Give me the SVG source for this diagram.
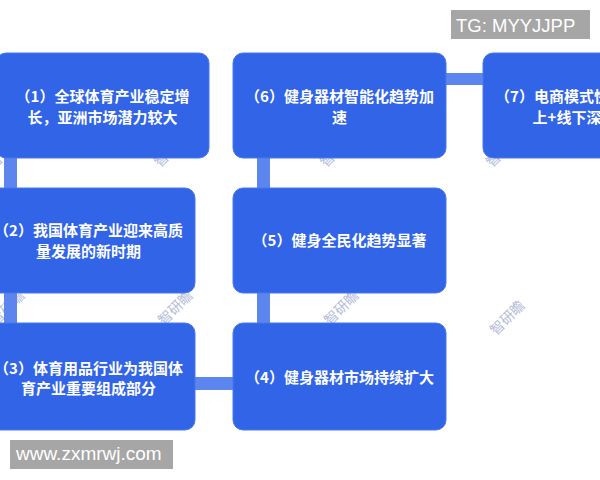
<svg xmlns="http://www.w3.org/2000/svg" width="600" height="480" viewBox="0 0 600 480">
<style>
.box{fill:#3164e6;stroke:#4a78ec;stroke-width:1}
.con{fill:#5c86ee}
.t{font-family:"Noto Sans CJK SC","Noto Sans",sans-serif;font-size:15px;font-weight:bold;fill:#ffffff;text-anchor:middle}
.wm{font-family:"Noto Sans CJK SC",sans-serif;font-size:14px;fill:#b4bcd8}
.tag{fill:#a6a6a6}
.tagt{font-family:"Liberation Sans",Arial,sans-serif;fill:#ffffff}
</style>
<rect width="600" height="480" fill="#ffffff"/>
<g id="watermarks">
<text class="wm" transform="translate(-6,170) rotate(-45)">智研瞻</text>
<text class="wm" transform="translate(160,168) rotate(-45)">智研瞻</text>
<text class="wm" transform="translate(326,168) rotate(-45)">智研瞻</text>
<text class="wm" transform="translate(492,168) rotate(-45)">智研瞻</text>
<text class="wm" transform="translate(-4,326) rotate(-45)">智研瞻</text>
<text class="wm" transform="translate(164,326) rotate(-45)">智研瞻</text>
<text class="wm" transform="translate(330,326) rotate(-45)">智研瞻</text>
<text class="wm" transform="translate(496,336) rotate(-45)">智研瞻</text>
</g>
<g id="connectors">
<rect class="con" x="4" y="158" width="13" height="31"/>
<rect class="con" x="4" y="293" width="13" height="31"/>
<rect class="con" x="194" y="377" width="40" height="13"/>
<rect class="con" x="257" y="293" width="13" height="31"/>
<rect class="con" x="257" y="158" width="13" height="31"/>
<rect class="con" x="445" y="73" width="39" height="12"/>
</g>
<g id="node1">
<rect class="box" x="-4" y="53" width="213" height="105" rx="10"/>
<text class="t" x="102.5" y="101.5">（1）全球体育产业稳定增</text>
<text class="t" x="102.5" y="122.5">长，亚洲市场潜力较大</text>
</g>
<g id="node2">
<rect class="box" x="-18" y="188" width="213" height="105" rx="10"/>
<text class="t" x="88.5" y="235.5">（2）我国体育产业迎来高质</text>
<text class="t" x="88.5" y="256.5">量发展的新时期</text>
</g>
<g id="node3">
<rect class="box" x="-18" y="323" width="213" height="107" rx="10"/>
<text class="t" x="88.5" y="374">（3）体育用品行业为我国体</text>
<text class="t" x="88.5" y="394">育产业重要组成部分</text>
</g>
<g id="node4">
<rect class="box" x="233" y="323" width="213" height="107" rx="10"/>
<text class="t" x="339.5" y="383">（4）健身器材市场持续扩大</text>
</g>
<g id="node5">
<rect class="box" x="233" y="188" width="213" height="105" rx="10"/>
<text class="t" x="339.5" y="246">（5）健身全民化趋势显著</text>
</g>
<g id="node6">
<rect class="box" x="233" y="53" width="213" height="105" rx="10"/>
<text class="t" x="339.5" y="101.5">（6）健身器材智能化趋势加</text>
<text class="t" x="339.5" y="122.5">速</text>
</g>
<g id="node7">
<rect class="box" x="483" y="53" width="213" height="105" rx="10"/>
<text class="t" x="589.5" y="101.5">（7）电商模式快速发展，线</text>
<text class="t" x="589.5" y="122.5">上+线下深度融合</text>
</g>
<g id="tag-tg">
<rect class="tag" x="451" y="10" width="139" height="29"/>
<text class="tagt" x="456" y="32" font-size="18.5">TG: MYYJJPP</text>
</g>
<g id="tag-url">
<rect class="tag" x="10" y="440" width="163" height="29"/>
<text class="tagt" x="16" y="460" font-size="19">www.zxmrwj.com</text>
</g>
</svg>
